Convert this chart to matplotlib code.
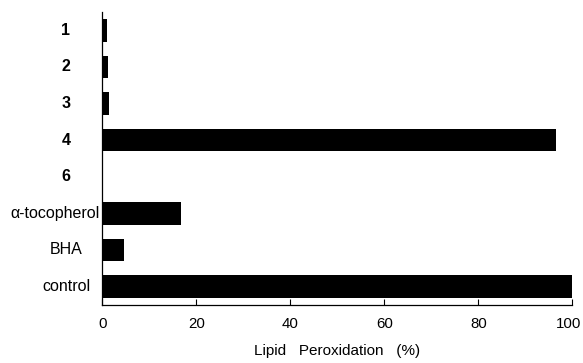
import numpy as np
import matplotlib
matplotlib.use('Agg')
import matplotlib.pyplot as plt
import matplotlib.transforms as mtransforms

plt.rcParams['font.family'] = ['Liberation Sans', 'DejaVu Sans']

# data (top to bottom)
labels = ['1', '2', '3', '4', '6', 'α-tocopherol', 'BHA', 'control']
bold_labels = [True, True, True, True, True, False, False, False]
values = [0.9, 1.3, 1.5, 96.6, 0.0, 16.7, 4.7, 100.0]
xticks = [0, 20, 40, 60, 80, 100]

fig = plt.figure(figsize=(5.83, 3.63), dpi=100)
ax = fig.add_axes([0.1755, 0.16, 0.8062, 0.807])

pos = np.arange(len(labels))
ax.barh(pos, values, height=0.62, color='black')

ax.set_xlim(0, 100)
ax.set_ylim(7.5, -0.5)
ax.set_xticks(xticks)
ax.set_xticklabels([str(v) for v in xticks], fontsize=10.8)
ax.tick_params(axis='x', direction='in', length=4, width=0.8, pad=9)
ax.set_yticks([])

# nudge the last tick label so it stays inside the figure
last = ax.get_xticklabels()[-1]
last.set_transform(last.get_transform() +
                   mtransforms.ScaledTranslation(-4 / 100, 0, fig.dpi_scale_trans))

for s in ['top', 'right']:
    ax.spines[s].set_visible(False)
for s in ['left', 'bottom']:
    ax.spines[s].set_linewidth(0.9)

# category labels, centred left of the axis
trans = mtransforms.blended_transform_factory(fig.transFigure, ax.transData)
for i, (lab, b) in enumerate(zip(labels, bold_labels)):
    if lab == 'α-tocopherol':
        ax.text(100 / 583, i, lab, transform=trans, ha='right', va='center',
                fontsize=11.5)
    else:
        ax.text(66 / 583, i, lab, transform=trans, ha='center', va='center',
                fontsize=11.5, fontweight='bold' if b else 'normal')

ax.set_xlabel('Lipid   Peroxidation   (%)', fontsize=11, labelpad=9)

fig.savefig('out.png', dpi=100)
